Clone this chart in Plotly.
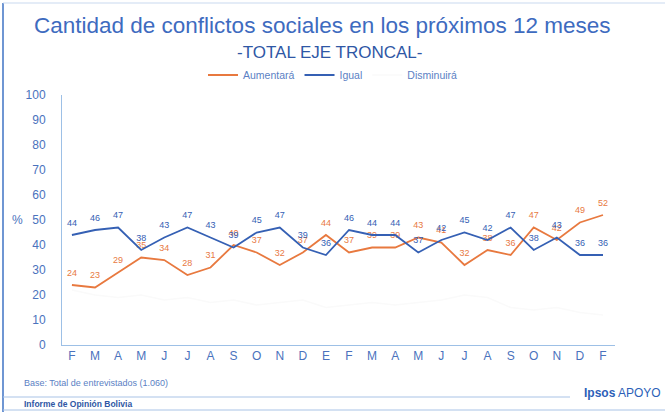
import plotly.graph_objects as go

months = ["F", "M", "A", "M", "J", "J", "A", "S", "O", "N", "D", "E",
          "F", "M", "A", "M", "J", "J", "A", "S", "O", "N", "D", "F"]
aumentara = [24, 23, 29, 35, 34, 28, 31, 40, 37, 32, 37, 44,
             37, 39, 39, 43, 41, 32, 38, 36, 47, 42, 49, 52]
igual = [44, 46, 47, 38, 43, 47, 43, 39, 45, 47, 39, 36,
         46, 44, 44, 37, 42, 45, 42, 47, 38, 43, 36, 36]
disminuira = [22, 20, 19, 20, 18, 19, 17, 18, 16, 17, 18, 15,
              16, 17, 16, 17, 18, 20, 19, 15, 14, 15, 13, 12]
yticks = list(range(0, 101, 10))

x = list(range(len(months)))
ORANGE = "#e8793f"
BLUE = "#3560b4"
TXT = "#4a72bd"
CLEAR = "rgba(0,0,0,0)"

# plot area in pixels
L, R, T, B = 62, 615, 95, 345


def px(v):
    return (v - L) / (R - L)


def py(v):
    return (B - v) / (B - T)


fig = go.Figure()
fig.add_trace(go.Scatter(x=x, y=aumentara, mode="lines+markers+text", name="Aumentará",
                         line=dict(color=ORANGE, width=1.8),
                         marker=dict(size=10, color=CLEAR, line=dict(width=0, color=CLEAR)),
                         text=[str(v) for v in aumentara], textposition="top center",
                         textfont=dict(color=ORANGE, size=9, family="Liberation Sans")))
fig.add_trace(go.Scatter(x=x, y=igual, mode="lines+markers+text", name="Igual",
                         line=dict(color=BLUE, width=1.8),
                         marker=dict(size=10, color=CLEAR, line=dict(width=0, color=CLEAR)),
                         text=[str(v) for v in igual], textposition="top center",
                         textfont=dict(color=BLUE, size=9, family="Liberation Sans")))
fig.add_trace(go.Scatter(x=x, y=disminuira, mode="lines", name="Disminuirá",
                         line=dict(color="#fafafa", width=1.5)))

fig.update_layout(
    width=665, height=412,
    margin=dict(l=L, r=665 - R, t=T, b=412 - B, autoexpand=False),
    paper_bgcolor="white", plot_bgcolor="white",
    font=dict(family="Liberation Sans", color=TXT),
    showlegend=True,
    legend=dict(orientation="h", x=px(333), xanchor="center", y=1 - 75 / 412,
                yref="container", yanchor="middle", font=dict(size=10.5, color="#5b7fc4"),
                itemwidth=30, tracegroupgap=0, bgcolor="rgba(0,0,0,0)"),
    xaxis=dict(range=[-0.43, 23.52], tickmode="array", tickvals=x, ticktext=months,
               showgrid=False, zeroline=False, showline=True, linecolor="#9dc0e6",
               linewidth=1, ticks="", automargin=False, tickfont=dict(size=12, color=TXT)),
    yaxis=dict(range=[0, 100], tickmode="array", tickvals=yticks,
               showgrid=False, zeroline=False, showline=True, linecolor="#9dc0e6",
               linewidth=1, ticks="", ticklabelstandoff=13, automargin=False,
               tickfont=dict(size=12, color=TXT)),
)

# frame lines
fig.add_shape(type="line", xref="paper", yref="paper", x0=px(3), x1=px(3),
              y0=py(412), y1=py(3), line=dict(color="#6f96d3", width=2))
fig.add_shape(type="line", xref="paper", yref="paper", x0=px(3), x1=px(665),
              y0=py(3), y1=py(3), line=dict(color="#c9d9ef", width=1))
fig.add_shape(type="line", xref="paper", yref="paper", x0=px(3), x1=px(570),
              y0=py(397), y1=py(397), line=dict(color="#a9c3e6", width=1))
fig.add_shape(type="line", xref="paper", yref="paper", x0=px(3), x1=px(665),
              y0=py(410), y1=py(410), line=dict(color="#a9c3e6", width=1))

fig.add_annotation(text="Cantidad de conflictos sociales en los próximos 12 meses",
                   xref="paper", yref="paper", x=px(322), y=py(25), xanchor="center",
                   yanchor="middle", showarrow=False,
                   font=dict(size=22.5, color="#3e6bbf", family="Liberation Sans"))
fig.add_annotation(text="-TOTAL EJE TRONCAL-", xref="paper", yref="paper",
                   x=px(329), y=py(52), xanchor="center", yanchor="middle", showarrow=False,
                   font=dict(size=17, color="#2f57a5", family="Liberation Sans"))
fig.add_annotation(text="%", xref="paper", yref="y", x=px(10), y=50, xanchor="left",
                   showarrow=False, font=dict(size=12, color=TXT))
fig.add_annotation(text="Base: Total de entrevistados (1.060)", xref="paper", yref="paper",
                   x=px(22), y=py(383), xanchor="left", yanchor="middle", showarrow=False,
                   font=dict(size=9, color="#5b7fc4"))
fig.add_annotation(text="<b>Ipsos</b> APOYO", xref="paper",
                   yref="paper", x=px(663), y=py(393), xanchor="right", yanchor="middle",
                   showarrow=False, font=dict(size=12, color="#2c5fb8"))
fig.add_annotation(text="<b>Informe de Opinión Bolivia</b>", xref="paper", yref="paper",
                   x=px(22), y=py(404), xanchor="left", yanchor="middle", showarrow=False,
                   font=dict(size=8.5, color="#2f57a5"))

fig.write_html("out.html", config={"displayModeBar": False},
               post_script="document.body.style.margin='0px';")
